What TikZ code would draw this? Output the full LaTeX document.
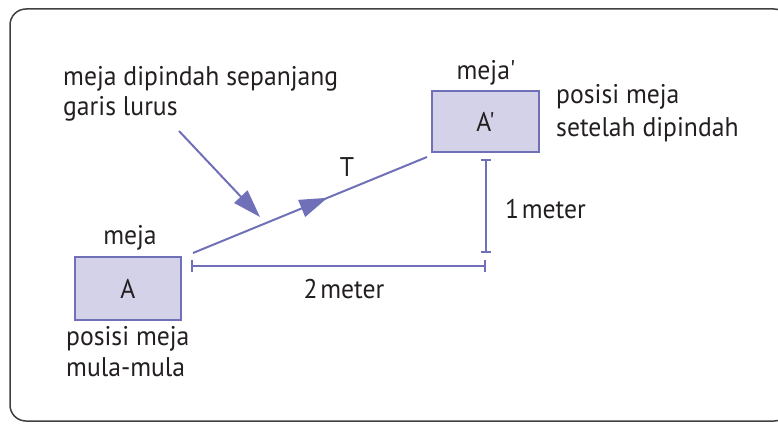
\documentclass[tikz,border=0pt]{standalone}
\usepackage{fontspec}
\setmainfont{PT Sans}[Ligatures=TeXOff, FakeStretch=0.95]
\usetikzlibrary{arrows.meta,decorations.markings}
\definecolor{ln}{RGB}{112,112,184}
\definecolor{bx}{RGB}{212,210,232}
\definecolor{txt}{RGB}{35,31,32}
\begin{document}
\begin{tikzpicture}[x=1pt,y=-1pt,
  lbl/.style={font=\fontsize{27}{30}\selectfont, text=txt, inner sep=0pt, anchor=base west},
  clbl/.style={font=\fontsize{27}{30}\selectfont, text=txt, inner sep=0pt, anchor=base},
  mejabox/.style={draw=ln, fill=bx, line width=2pt, inner sep=0pt, font=\fontsize{27}{30}\selectfont, text=txt},
  conn/.style={draw=ln, line width=2pt},
  dimline/.style={draw=ln, line width=2pt},
  midarrow/.style={decoration={markings, mark=at position #1 with {\arrow{Triangle[length=28pt,width=18pt]}}}, postaction=decorate}
]
\useasboundingbox (0,0) rectangle (778,425);
\clip (0,0) rectangle (778,425);
\draw[line width=1.5pt, rounded corners=16pt, draw=black!75] (10,9) rectangle (790,421);

% boxes
\node[mejabox, minimum width=106pt, minimum height=63pt] (A) at (128,288.5) {A};
\node[mejabox, minimum width=107pt, minimum height=61pt] (Ap) at (485.5,121.5) {A'};

% labels
\node[clbl] (mejaA) at (130,244) {meja};
\node[clbl] (mejaAp) at (486,80) {meja'};
\node[lbl] (posA1) at (66,345) {posisi meja};
\node[lbl] (posA2) at (66,376) {mula-mula};
\node[lbl] (posB1) at (556,104) {posisi meja};
\node[lbl] (posB2) at (556,136) {setelah dipindah};
\node[lbl] (note1) at (63,86) {meja dipindah sepanjang};
\node[lbl] (note2) at (63,116) {garis lurus};
\node[clbl] (T) at (347,176) {T};
\node[lbl] (m1) at (505,218) {1\hspace{0.1em}meter};
\node[clbl] (m2) at (344,298) {2\hspace{0.1em}meter};

% connectors
\coordinate (t1) at (193,253);
\coordinate (t2) at (427,157);
\draw[conn, midarrow=0.575] (t1) -- (t2);

\coordinate (p1) at (179,131);
\coordinate (p2) at (260,217);
\draw[conn, -{Triangle[length=28pt,width=18pt]}] (p1) -- (p2);

\coordinate (h1) at (191,265.5);
\coordinate (h2) at (486,265.5);
\draw[dimline, {Bar[width=12pt]}-{Bar[width=12pt]}] (h1) -- (h2);

\coordinate (v1) at (486,159);
\coordinate (v2) at (486,253);
\draw[dimline, {Bar[width=10pt]}-{Bar[width=10pt]}] (v1) -- (v2);
\end{tikzpicture}
\end{document}
